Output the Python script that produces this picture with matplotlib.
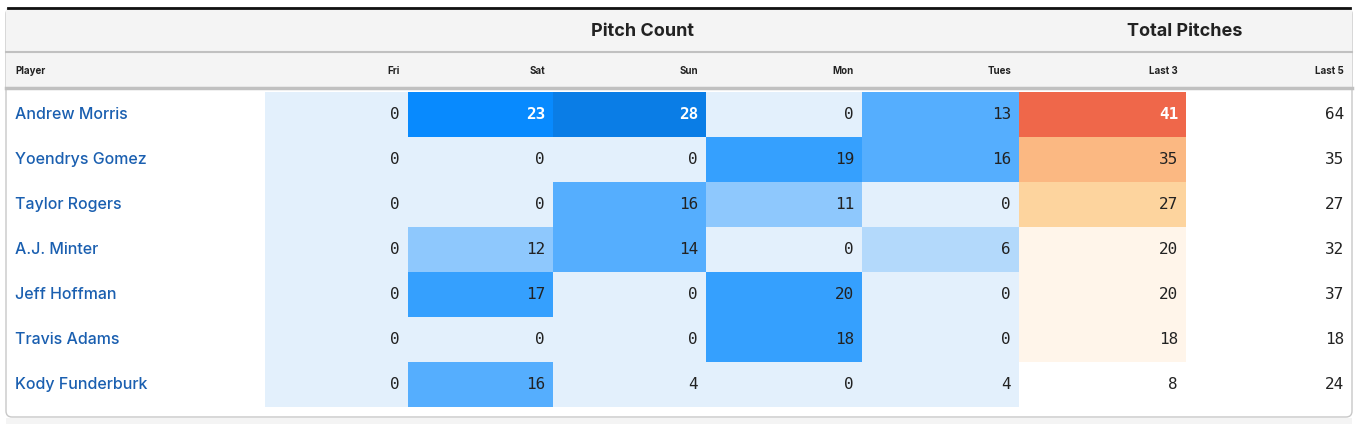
import matplotlib.pyplot as plt
from matplotlib.patches import Rectangle, FancyBboxPatch

players = ["Andrew Morris", "Yoendrys Gomez", "Taylor Rogers", "A.J. Minter",
           "Jeff Hoffman", "Travis Adams", "Kody Funderburk"]
days = ["Fri", "Sat", "Sun", "Mon", "Tues"]
pitches = [
    [0, 23, 28, 0, 13],
    [0, 0, 0, 19, 16],
    [0, 0, 16, 11, 0],
    [0, 12, 14, 0, 6],
    [0, 17, 0, 20, 0],
    [0, 0, 0, 18, 0],
    [0, 16, 4, 0, 4],
]
last3 = [41, 35, 27, 20, 20, 18, 8]
last5 = [64, 35, 27, 32, 37, 18, 24]


def blue(v):
    if v >= 26: return "#0a7de6", "white"
    if v >= 21: return "#088afe", "white"
    if v >= 17: return "#35a0fe", "#222222"
    if v >= 13: return "#55aefe", "#222222"
    if v >= 9: return "#8ec8fd", "#222222"
    if v >= 5: return "#b3d9fb", "#222222"
    return "#e3f0fc", "#222222"


def orange(v):
    if v >= 38: return "#ef674a", "white"
    if v >= 31: return "#fbb882", "#222222"
    if v >= 24: return "#fdd49e", "#222222"
    if v >= 16: return "#fff5ea", "#222222"
    return "white", "#222222"


W, H = 1358, 424
fig = plt.figure(figsize=(W / 100, H / 100), dpi=100)
ax = fig.add_axes([0, 0, 1, 1])
ax.set_xlim(0, W)
ax.set_ylim(H, 0)
ax.axis("off")

edges = [6, 265, 408, 553, 706, 862, 1019, 1186, 1352]
row_top, row_h = 92, 45

# table frame and header
ax.add_patch(FancyBboxPatch((6, 8), 1346, 409, boxstyle="round,pad=0,rounding_size=6",
                            facecolor="white", edgecolor="#c8c8c8", lw=1, zorder=0))
ax.add_patch(Rectangle((6, 8), 1346, 80, facecolor="#f4f4f4", edgecolor="none", zorder=1))
ax.plot([8, 1350], [8, 8], color="#111111", lw=2, zorder=3)
ax.plot([6, 1352], [52, 52], color="#c0c0c0", lw=1.5, zorder=3)
ax.plot([6, 1352], [88, 88], color="#c0c0c0", lw=2.5, zorder=3)
ax.add_patch(Rectangle((6, 418), 1346, 6, facecolor="#f4f4f4", edgecolor="none", zorder=1))

hfont = dict(family=["Inter", "DejaVu Sans"], weight="bold", color="#222222")
ax.text(694, 31, "Pitch Count", ha="right", va="center", fontsize=13, **hfont)
ax.text(1242, 31, "Total Pitches", ha="right", va="center", fontsize=13, **hfont)
ax.text(15, 71, "Player", ha="left", va="center", fontsize=7, **hfont)
for j, lab in enumerate(days + ["Last 3", "Last 5"]):
    ax.text(edges[j + 2] - 8, 71, lab, ha="right", va="center", fontsize=7, **hfont)

nfont = dict(family=["DejaVu Sans Mono"], fontsize=11.5)
for i, name in enumerate(players):
    y0 = row_top + i * row_h
    yc = y0 + row_h / 2
    ax.text(15, yc, name, ha="left", va="center", fontsize=11.5, color="#1a5fb0",
            family=["Inter", "DejaVu Sans"], weight="medium")
    for j, v in enumerate(pitches[i]):
        fc, tc = blue(v)
        ax.add_patch(Rectangle((edges[j + 1], y0), edges[j + 2] - edges[j + 1], row_h,
                               facecolor=fc, edgecolor="none", zorder=1))
        ax.text(edges[j + 2] - 8, yc, str(v), ha="right", va="center", color=tc,
                weight="bold" if tc == "white" else "normal", zorder=2, **nfont)
    fc, tc = orange(last3[i])
    ax.add_patch(Rectangle((edges[6], y0), edges[7] - edges[6], row_h,
                           facecolor=fc, edgecolor="none", zorder=1))
    ax.text(edges[7] - 8, yc, str(last3[i]), ha="right", va="center", color=tc,
            weight="bold" if tc == "white" else "normal", zorder=2, **nfont)
    ax.text(edges[8] - 8, yc, str(last5[i]), ha="right", va="center", color="#222222",
            zorder=2, **nfont)

fig.savefig("out.png", dpi=100)
